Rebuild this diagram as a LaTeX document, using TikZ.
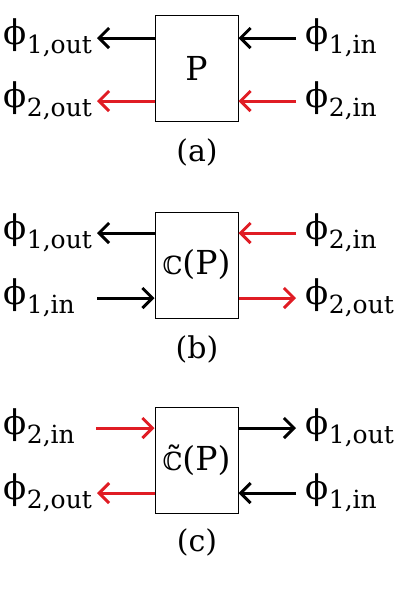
\documentclass[tikz,border=0pt]{standalone}
\usepackage{fontspec}
\setmainfont{DejaVu Serif}
\usetikzlibrary{arrows.meta,positioning}
\definecolor{wirered}{RGB}{224,28,36}
\newcommand{\ph}[1]{ϕ\kern0.5pt\raisebox{-0.28em}{\fontsize{25}{25}\selectfont #1}}
\newcommand{\cc}{{\fontsize{25}{25}\selectfont ℂ}}

\begin{document}
\begin{tikzpicture}[x=1pt,y=-1pt,>={Straight Barb[length=10pt,width=20pt]},
  blk/.style={draw,line width=1pt,minimum width=83pt,minimum height=106pt,inner sep=0pt,font=\fontsize{33}{33}\selectfont},
  lab/.style={inner sep=0pt,anchor=west,font=\fontsize{34}{34}\selectfont},
  captxt/.style={font=\fontsize{30}{30}\selectfont},
  wire/.style={line width=3pt,->},
  redwire/.style={wire,draw=wirered}]
\useasboundingbox (0,0) rectangle (400,590);
% (a) the plain box P
\node[blk] (P) at (196.5,68) {P};
\coordinate (aL1) at (97,38); \coordinate (aL2) at (97,101);
\coordinate (aR1) at (296,38); \coordinate (aR2) at (296,101);
\node[lab] (a1out) at (3,38) {\ph{1,out}};
\node[lab] (a2out) at (3,101) {\ph{2,out}};
\node[lab] (a1in) at (305,38) {\ph{1,in}};
\node[lab] (a2in) at (305,101) {\ph{2,in}};
\draw[wire] (P.west |- aL1) -- (aL1);
\draw[redwire] (P.west |- aL2) -- (aL2);
\draw[wire] (aR1) -- (P.east |- aR1);
\draw[redwire] (aR2) -- (P.east |- aR2);
\node[captxt] (capa) at (197,152) {(a)};
% (b) C(P)
\node[blk] (CP) at (196.5,265) {\cc(P)};
\coordinate (bL1) at (97,233); \coordinate (bL2) at (97,298);
\coordinate (bR1) at (296,233); \coordinate (bR2) at (296,298);
\node[lab] (b1out) at (3,233) {\ph{1,out}};
\node[lab] (b1in) at (3,298) {\ph{1,in}};
\node[lab] (b2in) at (305,233) {\ph{2,in}};
\node[lab] (b2out) at (305,298) {\ph{2,out}};
\draw[wire] (CP.west |- bL1) -- (bL1);
\draw[wire] (bL2) -- (CP.west |- bL2);
\draw[redwire] (bR1) -- (CP.east |- bR1);
\draw[redwire] (CP.east |- bR2) -- (bR2);
\node[captxt] (capb) at (197,349) {(b)};
% (c) tilde C(P)
\node[blk] (TP) at (196.5,460) {\~{\cc}(P)};
\coordinate (cL1) at (96,428); \coordinate (cL2) at (97,493);
\coordinate (cR1) at (296,428); \coordinate (cR2) at (296,493);
\node[lab] (c2in) at (3,428) {\ph{2,in}};
\node[lab] (c2out) at (3,493) {\ph{2,out}};
\node[lab] (c1out) at (305,428) {\ph{1,out}};
\node[lab] (c1in) at (305,493) {\ph{1,in}};
\draw[redwire] (cL1) -- (TP.west |- cL1);
\draw[redwire] (TP.west |- cL2) -- (cL2);
\draw[wire] (TP.east |- cR1) -- (cR1);
\draw[wire] (cR2) -- (TP.east |- cR2);
\node[captxt] (capc) at (197,542) {(c)};
\end{tikzpicture}
\end{document}
